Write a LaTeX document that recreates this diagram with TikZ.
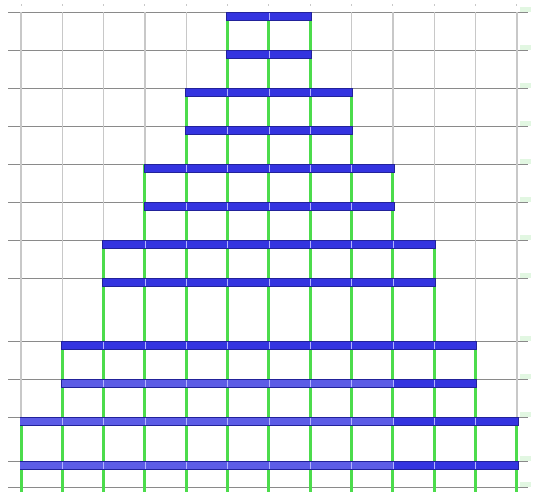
\documentclass[tikz,border=0pt]{standalone}
\definecolor{barblue}{HTML}{3434E0}
\definecolor{barlight}{HTML}{5C5CE6}
\definecolor{baredge}{HTML}{22229A}
\definecolor{gline}{HTML}{4CDC4C}
\definecolor{hgray}{HTML}{8A8A8A}
\definecolor{vgray}{HTML}{C8C8C8}
\definecolor{labgreen}{HTML}{E2F7E2}
\tikzset{
 hline/.style={draw=hgray, line width=1pt},
 vline/.style={draw=vgray, line width=1.6pt},
 tick/.style={draw=vgray, line width=1pt},
 gcol/.style={draw=gline, line width=3pt},
 bar/.style={fill=barblue, draw=baredge, line width=0.6pt},
 barl/.style={fill=barlight, draw=none},
 sep/.style={draw=blue!30!white, line width=0.8pt},
 lab/.style={fill=labgreen, draw=none}
}
\begin{document}
\begin{tikzpicture}[x=1pt,y=-1pt]
\useasboundingbox (0,0) rectangle (534,496);
\fill[white] (0,0) rectangle (534,496);
% horizontal grid lines
\foreach \y in {12,50,88,126,164,202,240,278,341,379,417,461,487}
  \draw[hline] (8,\y) -- (528,\y);
% right-side faint labels
\foreach \y in {12,50,88,126,164,202,240,278,341,379,417,461,487}
  \fill[lab] (520,\y-5) rectangle (531,\y);
% vertical gray grid lines and top ticks
\foreach \i in {0,...,12} {
  \draw[vline] ({21+41.33*\i},12) -- ({21+41.33*\i},490);
  \draw[tick] ({21+41.33*\i},4) -- ({21+41.33*\i},6);
}
% green columns
\foreach \i/\s in {0/417,1/341,2/240,3/164,4/88,5/12,6/12,7/12,8/88,9/164,10/240,11/341,12/417}
  \draw[gcol] ({21+41.33*\i},\s) -- ({21+41.33*\i},492);
% bars
\foreach \y/\a/\b in {12/5/7,50/5/7,88/4/8,126/4/8,164/3/9,202/3/9,240/2/10,278/2/10,341/1/11,379/1/11,417/0/12,461/0/12} {
  \filldraw[bar] ({21+41.33*\a-1},\y+0.5) rectangle ({21+41.33*\b+1},\y+8.5);
}
% lighter parts of the lower bars
\foreach \y/\a in {379/1,417/0,461/0} {
  \fill[barl] ({21+41.33*\a-0.6},\y+0.9) rectangle ({21+41.33*9},\y+8.1);
}
% thin light separators where columns cross bars
\foreach \y/\a/\b in {12/5/7,50/5/7,88/4/8,126/4/8,164/3/9,202/3/9,240/2/10,278/2/10,341/1/11,379/1/11,417/0/12,461/0/12} {
  \pgfmathtruncatemacro\aa{\a+1}
  \pgfmathtruncatemacro\bb{\b-1}
  \foreach \k in {\aa,...,\bb}
    \draw[sep] ({21+41.33*\k},\y+1) -- ({21+41.33*\k},\y+8);
}
\end{tikzpicture}
\end{document}
